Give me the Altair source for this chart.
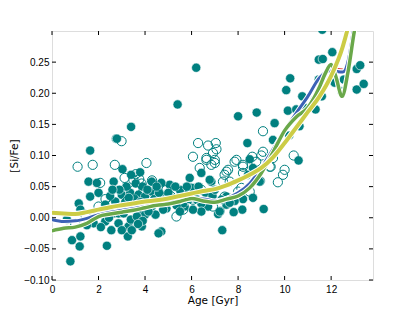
import altair as alt
import pandas as pd

# ---- scatter data: filled (teal) markers ----
filled_age = [0.79, 6.2, 5.4, 3.4, 2.75, 1.64, 8.0, 8.8, 9.57, 8.4, 10.07, 10.24, 10.76, 10.14,
              10.5, 11.33, 11.47, 11.64, 12.05, 11.47, 11.6, 11.3, 12.15, 12.45, 12.55, 13.1,
              13.25, 13.1, 13.4, 11.62, 10.6, 8.97, 9.5, 10.2, 10.64, 10.9,
              9.1, 8.64, 8.18, 8.21, 7.81, 7.85, 7.32, 7.24, 7.14, 8.93, 8.5, 8.43, 6.85, 6.42,
              6.71, 6.42, 7.5, 8.64, 6.78, 5.92, 7.5, 7.28, 7.64, 7.21, 6.42, 6.06, 5.7, 4.92,
              6.0, 5.5, 5.06, 4.7, 4.7, 5.2, 5.64, 4.78, 4.7, 5.0, 5.3, 5.8, 5.9, 6.2, 5.35,
              4.85, 5.5, 6.3, 6.6, 6.9, 7.0,
              2.79, 1.57, 1.93, 1.64, 2.65, 3.03, 3.79, 4.29, 1.15, 1.79, 1.22, 0.86, 1.22,
              1.19, 2.36, 0.64, 1.5, 2.65, 3.29, 3.26, 2.86, 2.86, 3.86, 3.39, 3.08, 3.5, 2.72,
              3.0, 3.36, 3.72, 4.0, 4.29, 4.29, 3.79, 4.0, 4.58, 3.65, 3.43, 3.0, 2.65, 2.29,
              2.29, 3.6, 3.2, 2.9, 3.9, 4.1, 4.4, 2.5, 3.55, 3.15, 2.45, 4.45, 3.9, 3.7, 2.1,
              4.6, 4.5, 2.0, 2.55, 3.4, 3.1, 3.8, 4.2, 2.6, 3.3, 4.15, 2.4]
filled_val = [-0.070, 0.241, 0.182, 0.146, 0.127, 0.108, 0.163, 0.169, 0.152, 0.120, 0.205, 0.224,
              0.195, 0.172, 0.174, 0.174, 0.254, 0.255, 0.266, 0.222, 0.195, 0.189, 0.217, 0.203,
              0.222, 0.239, 0.245, 0.206, 0.215, 0.302, 0.092, 0.059, 0.125, 0.132, 0.147, 0.176,
              0.014, 0.032, 0.013, 0.030, 0.009, 0.027, -0.020, 0.011, 0.006, 0.058, 0.094, 0.069,
              0.058, 0.072, 0.018, 0.023, 0.021, 0.080, 0.061, 0.064, 0.034, 0.029, 0.024, 0.010,
              0.010, 0.013, 0.018, 0.015, 0.048, 0.045, 0.053, 0.056, 0.037, 0.031, 0.023, 0.013,
              -0.022, 0.040, 0.050, 0.050, 0.030, 0.030, 0.020, 0.028, 0.010, 0.050, 0.040, 0.035,
              0.045,
              0.127, 0.058, 0.056, 0.034, 0.058, 0.078, 0.073, 0.058, 0.023, -0.009, 0.013,
              -0.036, -0.030, -0.046, -0.045, -0.003, -0.012, 0.007, -0.014, -0.030, -0.009,
              0.007, -0.014, -0.003, 0.007, 0.019, 0.026, 0.037, 0.040, 0.037, 0.034, 0.042,
              0.018, 0.013, 0.005, -0.025, 0.002, -0.020, -0.020, 0.015, 0.021, -0.006, 0.055,
              0.050, 0.045, 0.050, 0.045, 0.030, 0.035, 0.030, 0.025, 0.000, 0.005, -0.005,
              -0.010, -0.015, 0.040, 0.050, 0.040, -0.020, 0.069, 0.015, 0.025, 0.020, 0.045,
              0.032, 0.010, 0.010]

# ---- scatter data: open markers ----
open_age = [1.1, 1.75, 2.7, 4.06, 2.99, 2.07, 3.12, 3.5, 3.75, 2.0, 1.43, 2.0, 2.58, 3.22, 3.79,
            6.28, 6.71, 7.04, 7.07, 6.06, 6.64, 7.0, 6.35, 6.85, 7.93, 7.57, 7.42, 8.21, 9.07,
            8.78, 5.35, 5.64, 4.92, 5.57, 6.42, 6.06, 6.78, 7.64, 8.14, 10.39, 9.71, 10.0, 9.93,
            7.85, 8.21, 8.61, 9.4, 9.0, 8.21, 7.5, 7.35, 7.0, 6.64, 6.92, 7.42, 6.92, 8.5, 8.0,
            9.36, 9.07, 9.5, 3.55, 4.3, 4.5, 5.1, 5.8, 2.3, 1.0, 3.6, 3.85]
open_val = [0.082, 0.085, 0.085, 0.088, 0.123, 0.056, 0.064, 0.061, 0.062, 0.018, 0.005, 0.007,
            0.021, 0.026, 0.031, 0.120, 0.116, 0.120, 0.110, 0.098, 0.096, 0.093, 0.080, 0.085,
            0.093, 0.077, 0.069, 0.085, 0.139, 0.090, 0.002, 0.013, 0.045, 0.042, 0.045, 0.029,
            0.031, 0.058, 0.048, 0.100, 0.057, 0.077, 0.069, 0.090, 0.082, 0.098, 0.082, 0.100,
            0.072, 0.074, 0.058, 0.088, 0.093, 0.104, 0.034, 0.018, 0.042, 0.042, 0.082, 0.106,
            0.096, 0.045, 0.060, 0.038, 0.035, 0.035, 0.030, -0.010, 0.070, 0.055]

# ---- trend lines ----
line_age = [0, 0.5, 1, 1.5, 2, 2.5, 3, 3.5, 4, 4.5, 5, 5.5, 6, 6.5, 7, 7.5, 8, 8.5, 9, 9.5,
            10, 10.5, 11, 11.5, 12, 12.5, 12.75, 13.0]
red_val = [-0.003, -0.006, -0.005, -0.001, 0.005, 0.009, 0.012, 0.015, 0.018, 0.021, 0.024,
           0.027, 0.030, 0.030, 0.027, 0.032, 0.043, 0.059, 0.084, 0.112, 0.141, 0.168, 0.195,
           0.226, 0.241, 0.239, 0.258, 0.315]
blue_val = [-0.003, -0.006, -0.005, -0.001, 0.005, 0.009, 0.012, 0.015, 0.018, 0.021, 0.024,
            0.027, 0.030, 0.030, 0.027, 0.031, 0.040, 0.055, 0.080, 0.110, 0.140, 0.168, 0.195,
            0.225, 0.236, 0.234, 0.255, 0.315]
yellow_val = [0.008, 0.007, 0.006, 0.009, 0.013, 0.017, 0.020, 0.023, 0.026, 0.028, 0.031,
              0.035, 0.039, 0.043, 0.046, 0.052, 0.060, 0.069, 0.080, 0.097, 0.120, 0.145,
              0.170, 0.195, 0.228, 0.275, 0.310, 0.360]
green_age = [0, 0.5, 1, 1.5, 2, 2.5, 3, 3.5, 4, 4.5, 5, 5.5, 6, 6.5, 7, 7.5, 8, 8.5, 9, 9.5,
             10, 10.5, 11, 11.5, 11.75, 12.0, 12.2, 12.47, 12.72, 13.0, 13.1]
green_val = [-0.021, -0.017, -0.015, -0.009, 0.002, 0.006, 0.009, 0.012, 0.016, 0.020, 0.022,
             0.026, 0.031, 0.027, 0.025, 0.030, 0.035, 0.048, 0.072, 0.105, 0.140, 0.162, 0.177,
             0.210, 0.232, 0.246, 0.227, 0.195, 0.233, 0.300, 0.320]

x_ticks = [0, 2, 4, 6, 8, 10, 12]
y_ticks = [-0.10, -0.05, 0.00, 0.05, 0.10, 0.15, 0.20, 0.25]

W, H = 321, 249
TEAL = "#008080"
FONT = "DejaVu Sans"

xscale = alt.Scale(domain=[0, 13.8], nice=False, zero=False)
yscale = alt.Scale(domain=[-0.10, 0.30], nice=False, zero=False)
xaxis = alt.Axis(values=x_ticks, title="Age [Gyr]", grid=False, domain=False, ticks=False,
                 tickSize=0, labelPadding=12, labelBaseline="alphabetic", format="d",
                 titleY=23, titleBaseline="alphabetic", labelFlush=False,
                 titleFontWeight=400, titleFont=FONT, titleFontSize=10.5)
yaxis = alt.Axis(values=y_ticks, title="[Si/Fe]", grid=False, domain=False, ticks=False,
                 tickSize=0, labelPadding=3, format=".2f", titleX=-35,
                 titleBaseline="alphabetic", labelFlush=False,
                 titleFontWeight=400, titleFont=FONT, titleFontSize=10.5)

X = alt.X("age:Q", scale=xscale, axis=xaxis)
Y = alt.Y("val:Q", scale=yscale, axis=yaxis)

filled_df = pd.DataFrame({"age": filled_age, "val": filled_val})
open_df = pd.DataFrame({"age": open_age, "val": open_val})

filled = alt.Chart(filled_df).mark_circle(
    size=85, color=TEAL, opacity=1, stroke="white", strokeWidth=0.6, clip=True
).encode(x=X, y=Y)
opened = alt.Chart(open_df).mark_point(
    shape="circle", size=85, filled=False, color=TEAL, strokeWidth=1, opacity=1, clip=True
).encode(x=X, y=Y)

def line_layers(ages, vals, color, width):
    df = pd.DataFrame({"age": ages, "val": vals})
    under = alt.Chart(df).mark_line(
        color="white", strokeWidth=width + 2, interpolate="monotone", clip=True,
        strokeCap="round", strokeJoin="round"
    ).encode(x=X, y=Y)
    top = alt.Chart(df).mark_line(
        color=color, strokeWidth=width, interpolate="monotone", clip=True,
        strokeCap="round", strokeJoin="round"
    ).encode(x=X, y=Y)
    return [under, top]

lines = []
lines += line_layers(line_age, red_val, "#e0413a", 1.0)
lines += line_layers(line_age, blue_val, "#3c62b6", 3.0)
lines += line_layers(green_age, green_val, "#6aa84a", 3.5)
lines += line_layers(line_age, yellow_val, "#cccc46", 4.0)

xt_df = pd.DataFrame({"age": x_ticks})
yt_df = pd.DataFrame({"val": y_ticks})
xt_x = alt.X("age:Q", scale=xscale, axis=xaxis)
yt_y = alt.Y("val:Q", scale=yscale, axis=yaxis)
ticks = [
    alt.Chart(xt_df).mark_rule(color="black", strokeWidth=1).encode(
        x=xt_x, y=alt.value(0), y2=alt.value(4)),
    alt.Chart(xt_df).mark_rule(color="black", strokeWidth=1).encode(
        x=xt_x, y=alt.value(H - 4), y2=alt.value(H)),
    alt.Chart(yt_df).mark_rule(color="black", strokeWidth=1).encode(
        y=yt_y, x=alt.value(0), x2=alt.value(4)),
    alt.Chart(yt_df).mark_rule(color="black", strokeWidth=1).encode(
        y=yt_y, x=alt.value(W - 4), x2=alt.value(W)),
]

chart = alt.layer(filled, opened, *lines, *ticks).properties(
    width=W, height=H,
    autosize=alt.AutoSizeParams(type="none"),
    padding={"left": 44, "top": 23, "right": 34, "bottom": 30},
).configure_view(
    stroke="black", strokeWidth=1
).configure_axis(
    labelFont=FONT, titleFont=FONT, labelFontSize=10.5, titleFontSize=10.5,
    labelColor="black", titleColor="black", titleFontWeight=400
).configure(background="white")

chart.save("out.html", embed_options={"renderer": "svg", "actions": False})
